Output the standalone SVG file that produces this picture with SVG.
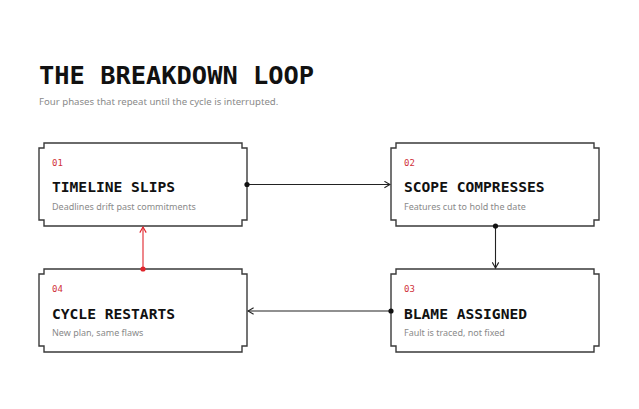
<svg xmlns="http://www.w3.org/2000/svg" width="639" height="409" viewBox="0 0 639 409">
<style>
.box{fill:#fff;stroke:#3a3a3a;stroke-width:1.4}
.num{font-family:"DejaVu Sans Mono","Liberation Mono",monospace;font-size:9px;fill:#d0313a}
.ttl{font-family:"DejaVu Sans Mono","Liberation Mono",monospace;font-weight:bold;font-size:14.6px;fill:#111}
.sub{font-family:"Noto Sans","Open Sans",sans-serif;font-size:9px;fill:#8a8a8a}
.ln{fill:none;stroke:#222;stroke-width:1.1}
.red{stroke:#e0242b}
</style>
<defs>
<marker id="ah" viewBox="0 0 10 10" refX="9" refY="5" markerWidth="8" markerHeight="8" markerUnits="userSpaceOnUse" orient="auto">
<path d="M2,1 L9,5 L2,9" fill="none" stroke="#222" stroke-width="1.4"/>
</marker>
<marker id="ahr" viewBox="0 0 10 10" refX="9" refY="5" markerWidth="8" markerHeight="8" markerUnits="userSpaceOnUse" orient="auto">
<path d="M2,1 L9,5 L2,9" fill="none" stroke="#e0242b" stroke-width="1.4"/>
</marker>
</defs>
<rect width="639" height="409" fill="#fff"/>
<text x="39" y="84" font-family="DejaVu Sans Mono,Liberation Mono,monospace" font-weight="bold" font-size="25.4" fill="#111">THE BREAKDOWN LOOP</text>
<text x="39" y="105" font-family="Noto Sans,Open Sans,sans-serif" font-size="9.65" fill="#8a8a8a">Four phases that repeat until the cycle is interrupted.</text>

<g id="n1">
<path class="box" d="M44,143 H242 V148 H247 V220 H242 V226 H44 V220 H39 V148 H44 Z"/>
<text class="num" x="52" y="166">01</text>
<text class="ttl" x="52" y="192">TIMELINE SLIPS</text>
<text class="sub" x="52" y="210">Deadlines drift past commitments</text>
</g>
<g id="n2">
<path class="box" d="M396,143 H594 V148 H599 V220 H594 V226 H396 V220 H391 V148 H396 Z"/>
<text class="num" x="404" y="166">02</text>
<text class="ttl" x="404" y="192">SCOPE COMPRESSES</text>
<text class="sub" x="404" y="210">Features cut to hold the date</text>
</g>
<g id="n3">
<path class="box" d="M396,269 H594 V274 H599 V346 H594 V352 H396 V346 H391 V274 H396 Z"/>
<text class="num" x="404" y="292">03</text>
<text class="ttl" x="404" y="319">BLAME ASSIGNED</text>
<text class="sub" x="404" y="336">Fault is traced, not fixed</text>
</g>
<g id="n4">
<path class="box" d="M44,269 H242 V274 H247 V346 H242 V352 H44 V346 H39 V274 H44 Z"/>
<text class="num" x="52" y="292">04</text>
<text class="ttl" x="52" y="319">CYCLE RESTARTS</text>
<text class="sub" x="52" y="336">New plan, same flaws</text>
</g>

<g id="connectors">
<line class="ln" x1="247" y1="184.5" x2="390" y2="184.5" marker-end="url(#ah)"/>
<circle cx="247" cy="184.5" r="2.6" fill="#111"/>
<line class="ln" x1="495.5" y1="226" x2="495.5" y2="268" marker-end="url(#ah)"/>
<circle cx="495.5" cy="226" r="2.6" fill="#111"/>
<line class="ln" x1="391" y1="311" x2="248" y2="311" marker-end="url(#ah)"/>
<circle cx="391" cy="311" r="2.6" fill="#111"/>
<line class="ln red" x1="143" y1="269" x2="143" y2="227" marker-end="url(#ahr)"/>
<circle cx="143" cy="269" r="2.6" fill="#e0242b"/>
</g>
</svg>
